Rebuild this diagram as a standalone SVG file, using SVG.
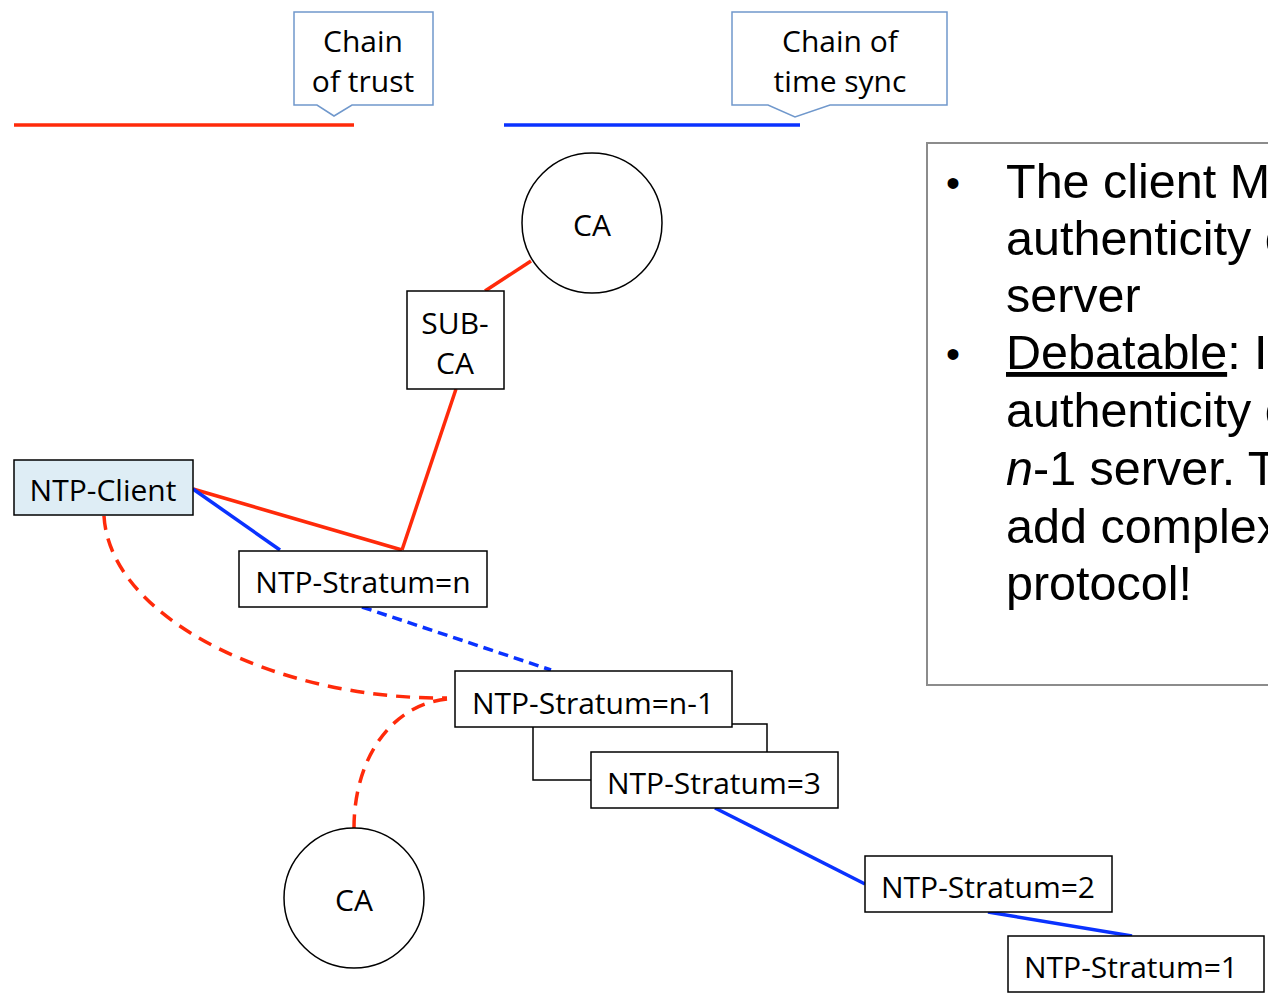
<svg xmlns="http://www.w3.org/2000/svg" width="1268" height="996" viewBox="0 0 1268 996">
<style>
.box{fill:#fff;stroke:#000;stroke-width:1.5}
.lbl{font-family:"Open Sans","DejaVu Sans",sans-serif;font-size:30px;fill:#000;text-anchor:middle}
.call{fill:#fff;stroke:#7098cc;stroke-width:1.5}
.red{stroke:#ff2a0a;stroke-width:3.5;fill:none}
.blue{stroke:#0a32ff;stroke-width:3.5;fill:none}
.rdash{stroke-dasharray:14 9}
.bdash{stroke-dasharray:10 6}
.body{font-family:"Liberation Sans",Arial,sans-serif;font-size:48.5px;fill:#000}
.bul{font-family:"Liberation Sans",Arial,sans-serif;font-size:40px;fill:#000}
</style>
<rect width="1268" height="996" fill="#fff"/>
<g id="legend">
<line class="red" x1="14" y1="125" x2="354" y2="125" stroke-width="4"/>
<line class="blue" x1="504" y1="125" x2="800" y2="125" stroke-width="4"/>
</g>
<g id="callout-trust">
<path class="call" d="M294,12 H433 V105 H352 L334,116 L317,105 H294 Z"/>
<text class="lbl" x="363" y="52">Chain</text>
<text class="lbl" x="363" y="92">of trust</text>
</g>
<g id="callout-sync">
<path class="call" d="M732,12 H947 V105 H830 L795,117 L768,105 H732 Z"/>
<text class="lbl" x="840" y="52">Chain of</text>
<text class="lbl" x="840" y="92">time sync</text>
</g>
<g id="connectors">
<line class="red" x1="531" y1="261" x2="485" y2="291"/>
<line class="red" x1="456" y1="389" x2="402" y2="550"/>
<line class="red" x1="193" y1="489" x2="402" y2="550"/>
<line class="blue" x1="193" y1="489" x2="280" y2="550"/>
<line class="blue bdash" x1="362" y1="607" x2="551" y2="670"/>
<line class="blue" x1="715" y1="808" x2="865" y2="884"/>
<line class="blue" x1="988" y1="912" x2="1132" y2="936"/>
<path class="red rdash" d="M104,516 C110,620 280,700 447,698"/>
<path class="red rdash" d="M447,699 C390,705 354,760 354,828"/>
</g>
<g id="ca-top">
<circle cx="592" cy="223" r="70" fill="#fff" stroke="#000" stroke-width="1.5"/>
<text class="lbl" x="592" y="236">CA</text>
</g>
<g id="sub-ca">
<rect class="box" x="407" y="291" width="97" height="98"/>
<text class="lbl" x="455" y="334">SUB-</text>
<text class="lbl" x="455" y="374">CA</text>
</g>
<g id="ntp-client">
<rect class="box" x="14" y="460" width="179" height="55" style="fill:#deedf5"/>
<text class="lbl" x="103" y="501">NTP-Client</text>
</g>
<g id="stratum-n">
<rect class="box" x="239" y="551" width="248" height="56"/>
<text class="lbl" x="363" y="593">NTP-Stratum=n</text>
</g>
<g id="stratum-mid">
<rect class="box" x="533" y="724" width="234" height="56"/>
</g>
<g id="stratum-n-1">
<rect class="box" x="455" y="671" width="277" height="56"/>
<text class="lbl" x="593" y="714">NTP-Stratum=n-1</text>
</g>
<g id="stratum-3">
<rect class="box" x="591" y="752" width="247" height="56"/>
<text class="lbl" x="714" y="794">NTP-Stratum=3</text>
</g>
<g id="stratum-2">
<rect class="box" x="865" y="856" width="247" height="56"/>
<text class="lbl" x="988" y="898">NTP-Stratum=2</text>
</g>
<g id="stratum-1">
<rect class="box" x="1008" y="936" width="256" height="56"/>
<text class="lbl" x="1131" y="978">NTP-Stratum=1</text>
</g>
<g id="ca-bottom">
<circle cx="354" cy="898" r="70" fill="#fff" stroke="#000" stroke-width="1.5"/>
<text class="lbl" x="354" y="911">CA</text>
</g>
<g id="note">
<rect x="927" y="143" width="360" height="542" fill="#fff" stroke="#8c8c8c" stroke-width="2"/>
<text class="bul" x="946" y="197">•</text>
<text class="body" x="1006" y="198">The client M</text>
<text class="body" x="1006" y="255">authenticity of</text>
<text class="body" x="1006" y="312">server</text>
<text class="bul" x="946" y="368">•</text>
<text class="body" x="1006" y="369"><tspan text-decoration="underline">Debatable</tspan>: It</text>
<text class="body" x="1006" y="427">authenticity of</text>
<text class="body" x="1006" y="485"><tspan font-style="italic">n</tspan>-1 server. T</text>
<text class="body" x="1006" y="543">add complex</text>
<text class="body" x="1006" y="600">protocol!</text>
</g>
</svg>
